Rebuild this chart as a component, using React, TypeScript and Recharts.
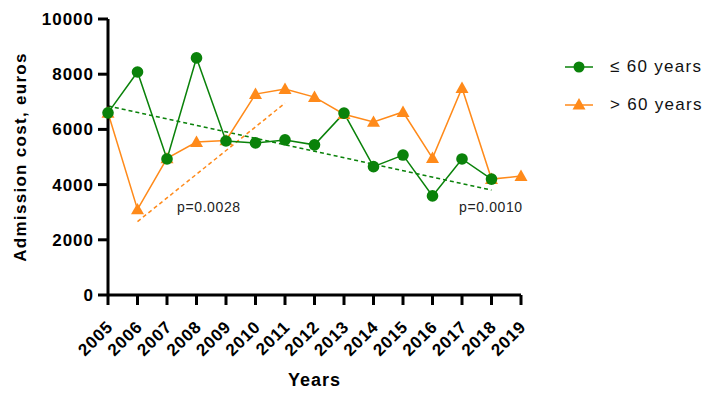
import { CartesianGrid, Line, LineChart, ReferenceDot, XAxis, YAxis } from 'recharts';

const years = [2005, 2006, 2007, 2008, 2009, 2010, 2011, 2012, 2013, 2014, 2015, 2016, 2017, 2018, 2019];
const youngCost = [6600, 8080, 4930, 8590, 5580, 5510, 5620, 5440, 6590, 4650, 5070, 3590, 4930, 4200, null];
const oldCost = [6600, 3100, 4950, 5540, 5600, 7280, 7460, 7170, 6550, 6270, 6630, 4960, 7500, 4200, 4310];
const youngTrend = [6850, null, null, null, null, null, null, null, null, null, null, null, null, 3800, null];
const oldTrend = [null, 2660, null, null, null, null, 6950, null, null, null, null, null, null, null, null];
const yTicks = [0, 2000, 4000, 6000, 8000, 10000];
const seriesNames = ['\u2264 60 years', '> 60 years'];

const GREEN = '#0a820a';
const ORANGE = '#ff8a1a';
const FONT = 'Liberation Sans, Arial, sans-serif';

const data = years.map((year, i) => ({
  year,
  young: youngCost[i],
  old: oldCost[i],
  youngTrend: youngTrend[i],
  oldTrend: oldTrend[i],
}));

function Triangle({ cx, cy }: any) {
  if (cx == null || cy == null) return null;
  const s = 6.5;
  return <path d={`M${cx},${cy - s} L${cx + s},${cy + s * 0.75} L${cx - s},${cy + s * 0.75} Z`} fill={ORANGE} />;
}

function YearTick({ x, y, payload }: any) {
  return (
    <text
      x={x + 6}
      y={y + 21}
      transform={`rotate(-45 ${x + 6} ${y + 21})`}
      textAnchor='end'
      fontFamily={FONT}
      fontWeight='bold'
      fontSize={17}
      letterSpacing={0.8}
      fill='#000'
    >
      {payload.value}
    </text>
  );
}

function LegendIcon({ kind }: { kind: number }) {
  return (
    <svg width={30} height={14} style={{ display: 'block' }}>
      <line x1={1} y1={7} x2={29} y2={7} stroke={kind === 0 ? GREEN : ORANGE} strokeWidth={1.5} />
      {kind === 0 ? <circle cx={15} cy={7} r={5.5} fill={GREEN} /> : <Triangle cx={15} cy={6.5} />}
    </svg>
  );
}

export default function App() {
  return (
    <div style={{ position: 'absolute', left: 0, top: 0, width: 705, height: 393, background: '#fff' }}>
      <LineChart width={705} height={393} data={data} margin={{ top: 19, right: 184, left: 13, bottom: 8 }}>
        <CartesianGrid stroke='none' />
        <XAxis
          dataKey='year'
          type='number'
          domain={[2005, 2019]}
          ticks={years}
          interval={0}
          height={90}
          tick={<YearTick />}
          tickSize={10}
          axisLine={{ stroke: '#000', strokeWidth: 3 }}
          tickLine={{ stroke: '#000', strokeWidth: 3 }}
          label={{ value: 'Years', position: 'insideBottom', offset: -1, fontFamily: FONT, fontWeight: 'bold', fontSize: 18, fill: '#000', letterSpacing: 1 }}
        />
        <YAxis
          domain={[0, 10000]}
          ticks={yTicks}
          width={95}
          tickSize={10}
          tickMargin={4}
          axisLine={{ stroke: '#000', strokeWidth: 3 }}
          tickLine={{ stroke: '#000', strokeWidth: 3 }}
          tick={{ fontFamily: FONT, fontWeight: 'bold', fontSize: 17, fill: '#000', letterSpacing: 1 }}
          label={{ value: 'Admission cost, euros', angle: -90, position: 'insideLeft', offset: 0, dx: 7, fontFamily: FONT, fontWeight: 'bold', fontSize: 17, fill: '#000', letterSpacing: 1.3, style: { textAnchor: 'middle' } }}
        />
        <Line dataKey='oldTrend' stroke={ORANGE} strokeWidth={1.5} strokeDasharray='4 3' dot={false} connectNulls isAnimationActive={false} />
        <Line dataKey='youngTrend' stroke={GREEN} strokeWidth={1.5} strokeDasharray='4 3' dot={false} connectNulls isAnimationActive={false} />
        <Line dataKey='old' stroke={ORANGE} strokeWidth={1.5} dot={<Triangle />} isAnimationActive={false} />
        <Line dataKey='young' stroke={GREEN} strokeWidth={1.5} dot={{ r: 5.8, fill: GREEN, stroke: 'none' }} isAnimationActive={false} />
        <ReferenceDot x={2008.42} y={3190} r={0} label={{ value: 'p=0.0028', position: 'center', fontFamily: FONT, fontSize: 14, letterSpacing: 0.6, fill: '#222' }} />
        <ReferenceDot x={2017.98} y={3190} r={0} label={{ value: 'p=0.0010', position: 'center', fontFamily: FONT, fontSize: 14, letterSpacing: 0.6, fill: '#222' }} />
      </LineChart>
      {seriesNames.map((name, i) => (
        <div
          key={name}
          style={{ position: 'absolute', left: 564, top: 57 + i * 38, display: 'flex', alignItems: 'center', fontFamily: FONT, fontSize: 17, letterSpacing: 1.3, color: '#111' }}
        >
          <LegendIcon kind={i} />
          <span style={{ marginLeft: 16 }}>{name}</span>
        </div>
      ))}
    </div>
  );
}
